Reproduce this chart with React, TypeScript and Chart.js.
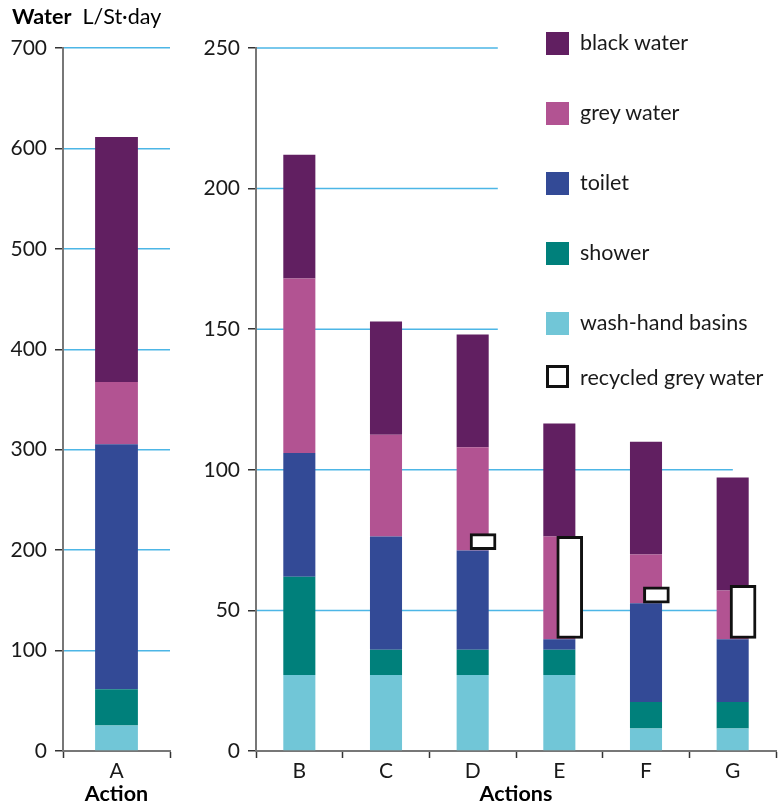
import React, { useEffect, useRef } from 'react';
import { Chart, registerables } from 'chart.js';

Chart.register(...registerables);

// ---------- data ----------
const LEFT_CATEGORIES = ['A'];
const RIGHT_CATEGORIES = ['B', 'C', 'D', 'E', 'F', 'G'];

const SERIES_NAMES = ['wash-hand basins', 'shower', 'toilet', 'grey water', 'black water'];
const SERIES_COLORS = ['#71c6d7', '#00807b', '#334a96', '#b25392', '#611f61'];

// Left chart (Action A), L/St·day
const washA = [25.5];
const showerA = [36];
const toiletA = [244];
const greyA = [62];
const blackA = [244];

// Right chart (Actions B–G), L/St·day
const washR = [27, 27, 27, 27, 8, 8];
const showerR = [35, 9, 9, 9, 9.4, 9.4];
const toiletR = [44, 40.3, 35.3, 3.7, 35.1, 22.3];
const greyR = [62, 36.2, 36.7, 36.6, 17.4, 17.4];
const blackR = [44, 40.2, 40.1, 40.2, 40.1, 40.2];

// Recycled grey water (floating boxes)
const RECYCLED_NAME = 'recycled grey water';
const recycledCats = ['D', 'E', 'F', 'G'];
const recycledLow = [71.6, 40, 52.6, 40];
const recycledHigh = [77.3, 76.3, 58.4, 58.9];

const LEFT_MAX = 700;
const LEFT_STEP = 100;
const RIGHT_MAX = 250;
const RIGHT_STEP = 50;

const Y_TITLE_BOLD = 'Water';
const Y_TITLE_UNIT = 'L/St·day';
const LEFT_X_TITLE = 'Action';
const RIGHT_X_TITLE = 'Actions';

// ---------- styles ----------
const FONT = 'Lato, "Open Sans", sans-serif';
const TEXT = '#1a1a1a';
const GRID = '#4db6e6';
const AXIS = '#777777';
const TICK = '#333333';

const rightGridPlugin = {
  id: 'rightGrid',
  beforeDatasetsDraw(chart: any) {
    const { ctx, chartArea, scales } = chart;
    const y = scales.y;
    const w = chartArea.right - chartArea.left;
    ctx.save();
    ctx.strokeStyle = GRID;
    ctx.lineWidth = 1.5;
    y.ticks.forEach((t: any) => {
      if (t.value === 0) return;
      const py = y.getPixelForValue(t.value);
      const frac = t.value >= 150 ? 0.465 : 0.917;
      ctx.beginPath();
      ctx.moveTo(chartArea.left + 1, py);
      ctx.lineTo(chartArea.left + frac * w, py);
      ctx.stroke();
    });
    ctx.restore();
  },
};

function stackDatasets(values: number[][], barPct: number) {
  return values.map((vals, i) => ({
    label: SERIES_NAMES[i],
    data: vals,
    backgroundColor: SERIES_COLORS[i],
    borderWidth: 0,
    stack: 'main',
    grouped: false,
    order: 1,
    barPercentage: barPct,
    categoryPercentage: 1,
    xAxisID: 'x',
  }));
}

function xScale(title: string) {
  return {
    stacked: true,
    offset: true,
    border: { color: AXIS, width: 2 },
    grid: { display: true, drawOnChartArea: false, offset: true, tickLength: 7, tickColor: TICK, tickWidth: 1.5 },
    ticks: { color: TEXT, font: { family: FONT, size: 21 }, padding: 1 },
    title: { display: true, text: title, color: '#000', font: { family: FONT, size: 21.5, weight: 'bold', lineHeight: 1 }, padding: { top: 0, bottom: 0 } },
    afterFit: (s: any) => { s.height = 54; },
  };
}

function yScale(max: number, step: number, width: number, gridOn: boolean) {
  return {
    stacked: true,
    min: 0,
    max,
    border: { color: AXIS, width: 2 },
    grid: { display: true, drawOnChartArea: gridOn, color: GRID, lineWidth: 1.5, tickLength: 8, tickColor: TICK, tickWidth: 1.5 },
    ticks: { stepSize: step, color: TEXT, font: { family: FONT, size: 21 }, padding: 8 },
    afterFit: (s: any) => { s.width = width; },
  };
}

export default function App() {
  const leftRef = useRef<HTMLCanvasElement | null>(null);
  const rightRef = useRef<HTMLCanvasElement | null>(null);

  useEffect(() => {
    document.body.style.margin = '0';
    const left = new Chart(leftRef.current as HTMLCanvasElement, {
      type: 'bar',
      data: {
        labels: LEFT_CATEGORIES,
        datasets: stackDatasets([washA, showerA, toiletA, greyA, blackA], 0.4) as any,
      },
      options: {
        responsive: false,
        animation: false,
        layout: { padding: { top: 48, right: 10, left: 0, bottom: 0 } },
        plugins: { legend: { display: false }, tooltip: { enabled: false } },
        scales: {
          x: xScale(LEFT_X_TITLE) as any,
          y: yScale(LEFT_MAX, LEFT_STEP, 63, true) as any,
        },
      },
    });

    const recycledData = recycledCats.map((c, i) => ({
      x: RIGHT_CATEGORIES.indexOf(c) + 0.12,
      y: [recycledLow[i], recycledHigh[i]],
    }));

    const right = new Chart(rightRef.current as HTMLCanvasElement, {
      type: 'bar',
      data: {
        labels: RIGHT_CATEGORIES,
        datasets: [
          ...stackDatasets([washR, showerR, toiletR, greyR, blackR], 0.37),
          {
            label: RECYCLED_NAME,
            data: recycledData,
            backgroundColor: '#ffffff',
            borderColor: '#111111',
            borderWidth: 3,
            borderSkipped: false,
            stack: 'recycled',
            grouped: false,
            order: 0,
            barThickness: 26,
            xAxisID: 'x2',
          },
        ] as any,
      },
      options: {
        responsive: false,
        animation: false,
        layout: { padding: { top: 48, right: 8, left: 0, bottom: 0 } },
        plugins: { legend: { display: false }, tooltip: { enabled: false } },
        scales: {
          x: xScale(RIGHT_X_TITLE) as any,
          x2: { type: 'linear', display: false, min: -0.5, max: 5.5, offset: false, grid: { display: false } } as any,
          y: yScale(RIGHT_MAX, RIGHT_STEP, 76, false) as any,
        },
      },
      plugins: [rightGridPlugin],
    });

    return () => {
      left.destroy();
      right.destroy();
    };
  }, []);

  const legendItems = [
    ...SERIES_NAMES.map((n, i) => ({ name: n, color: SERIES_COLORS[i], outline: false })).reverse(),
    { name: RECYCLED_NAME, color: '#ffffff', outline: true },
  ];
  const legendTops = [32, 102, 172, 242, 312, 365];

  return (
    <div style={{ position: 'absolute', left: 0, top: 0, width: 784, height: 805, overflow: 'hidden', fontFamily: FONT, color: TEXT, background: '#fff' }}>
      <div style={{ position: 'absolute', left: 0, top: 0, width: 180, height: 805 }}>
        <canvas ref={leftRef} width={180} height={805} />
      </div>
      <div style={{ position: 'absolute', left: 180, top: 0, width: 604, height: 805 }}>
        <canvas ref={rightRef} width={604} height={805} />
      </div>
      <div style={{ position: 'absolute', left: 12, top: 3, fontSize: 21.5, whiteSpace: 'nowrap', color: '#000' }}>
        <b>{Y_TITLE_BOLD}</b>
        <span style={{ marginLeft: 11 }}>{Y_TITLE_UNIT}</span>
      </div>
      {legendItems.map((it, i) => (
        <div key={it.name} style={{ position: 'absolute', left: 546, top: legendTops[i], height: 23, whiteSpace: 'nowrap' }}>
          <div
            style={{
              position: 'absolute',
              left: 0,
              top: 0,
              width: 23,
              height: 23,
              boxSizing: 'border-box',
              background: it.color,
              border: it.outline ? '3px solid #111' : 'none',
            }}
          />
          <div style={{ position: 'absolute', left: 34, top: it.outline ? 1 : -1, fontSize: 21.5, lineHeight: '23px' }}>{it.name}</div>
        </div>
      ))}
    </div>
  );
}
